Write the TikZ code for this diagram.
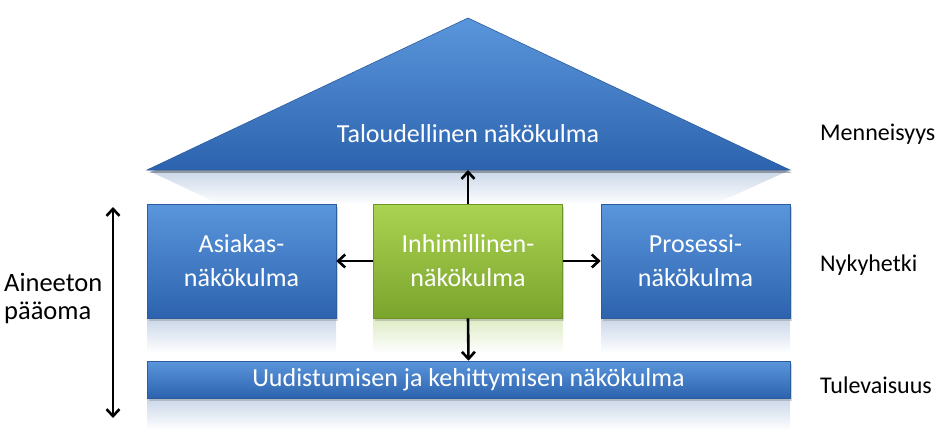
\documentclass[tikz,border=0pt]{standalone}
\usepackage{fontspec}
\setmainfont{Carlito}
\usetikzlibrary{arrows.meta,shadows}
\definecolor{btop}{HTML}{5A96DC}
\definecolor{bbot}{HTML}{2D63AE}
\definecolor{bedge}{HTML}{2A5C9E}
\definecolor{gtop}{HTML}{ABD352}
\definecolor{gbot}{HTML}{7AA42C}
\definecolor{gedge}{HTML}{6E9428}
\definecolor{refl}{HTML}{C9D6E8}
\definecolor{greenrefl}{HTML}{DDEBC4}
\tikzset{
  bluebox/.style={rectangle, draw=bedge, line width=0.6pt, top color=btop, bottom color=bbot,
    text=white, font=\fontsize{26}{34}\selectfont, align=center, inner sep=0pt,
    drop shadow={opacity=0.35, shadow xshift=1.5pt, shadow yshift=-3pt}},
  greenbox/.style={bluebox, draw=gedge, top color=gtop, bottom color=gbot},
  tip/.style={Straight Barb[length=7pt,width=13pt]},
  arr/.style={-{Straight Barb[length=7pt,width=13pt]}, line width=2.6pt},
  lbl/.style={font=\fontsize{24}{28}\selectfont, anchor=west, inner sep=0pt, align=left}
}
\begin{document}
\begin{tikzpicture}[x=1pt,y=1pt]
\useasboundingbox (0,0) rectangle (949,445);
% reflections
\shade[top color=refl, bottom color=white] (147,275) -- (790,275) -- (713,240) -- (221,240) -- cycle;
\shade[top color=refl, bottom color=white] (147,127) rectangle (336,92);
\shade[top color=greenrefl, bottom color=white] (373.5,127) rectangle (562.5,92);
\shade[top color=refl, bottom color=white] (601,127) rectangle (790,92);
\shade[top color=refl, bottom color=white] (147,47) rectangle (790,15);
% roof
\fill[black, opacity=0.3] (149,272) -- (469.5,424) -- (792,272) -- cycle;
\shade[top color=btop, bottom color=bbot, draw=bedge, line width=0.6pt] (147,275) -- (468,427) -- (790,275) -- cycle;
\node[text=white, font=\fontsize{26}{34}\selectfont] (talo) at (468,311) {Taloudellinen näkökulma};
\coordinate (tribase) at (468,275);
% boxes
\node[bluebox, minimum width=189pt, minimum height=114pt] (asiakas) at (241.5,184) {Asiakas-\\näkökulma};
\node[greenbox, minimum width=189pt, minimum height=114pt] (inhim) at (468,184) {Inhimillinen-\\näkökulma};
\node[bluebox, minimum width=189pt, minimum height=114pt] (prosessi) at (695.5,184) {Prosessi-\\näkökulma};
\node[bluebox, minimum width=643pt, minimum height=37pt] (uud) at (468.5,65.5) {Uudistumisen ja kehittymisen näkökulma};
% arrows
\draw[arr] (inhim.north) -- (tribase);
\draw[arr] (inhim.west) -- (asiakas.east);
\draw[arr] (inhim.east) -- (prosessi.west);
\draw[arr] (inhim.south) -- (uud.north);
\coordinate (vtop) at (113,238);
\coordinate (vbot) at (113,27);
\draw[{Straight Barb[length=7pt,width=13pt]}-{Straight Barb[length=7pt,width=13pt]}, line width=2.6pt] (vtop) -- (vbot);
% labels
\node[lbl, font=\fontsize{26.5}{28}\selectfont] (aineeton) at (4,146) {Aineeton\\pääoma};
\node[lbl] (menn) at (820,311) {Menneisyys};
\node[lbl] (nyky) at (820,180) {Nykyhetki};
\node[lbl] (tule) at (820,60) {Tulevaisuus};
\end{tikzpicture}
\end{document}
